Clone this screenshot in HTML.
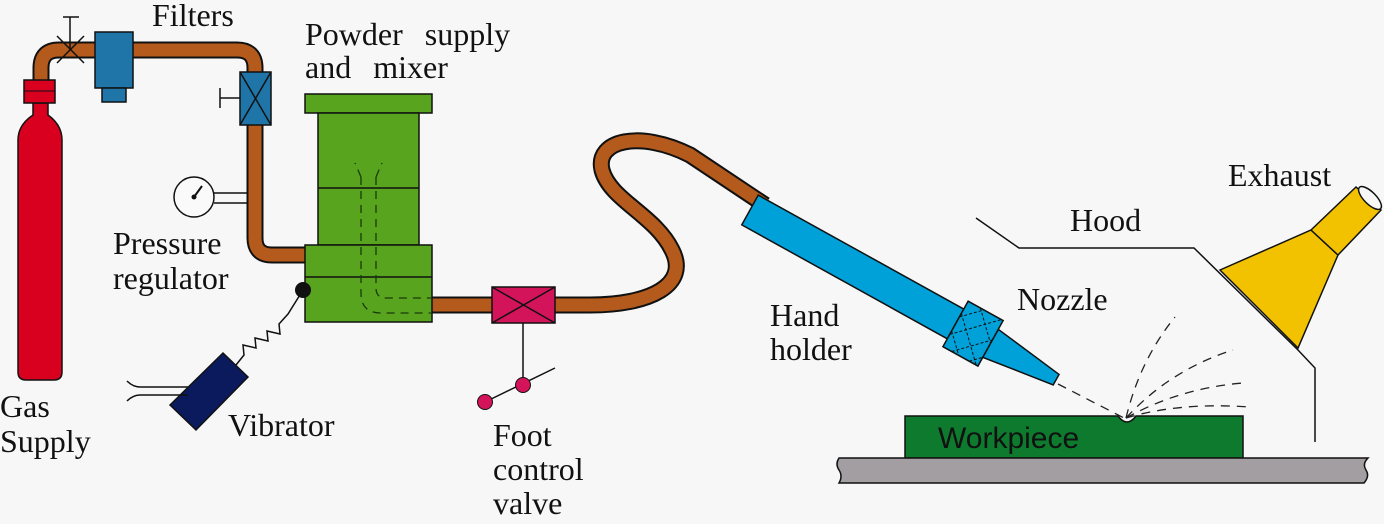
<!DOCTYPE html>
<html><head><meta charset="utf-8"><style>
html,body{margin:0;padding:0;background:#f7f7f7}
svg{display:block}
text{font-family:"Liberation Serif",serif;font-size:32px;fill:#111}
</style></head><body>
<svg width="1384" height="524" viewBox="0 0 1384 524" xmlns="http://www.w3.org/2000/svg">
<rect width="1384" height="524" fill="#f7f7f7"/>
<!-- pipes -->
<g fill="none" stroke-linejoin="round">
<path d="M41,82 V68 Q41,50 59,50 H237 Q255,50 255,68 V238 Q255,255 272,255 H306" stroke="#111" stroke-width="17"/>
<path d="M41,82 V68 Q41,50 59,50 H237 Q255,50 255,68 V238 Q255,255 272,255 H306" stroke="#b35a1c" stroke-width="13"/>
<path d="M430,305 H590 C650,305 690,285 672,250 C655,215 610,200 602,170 C595,140 640,130 690,155 L765,205" stroke="#111" stroke-width="17"/>
<path d="M430,305 H590 C650,305 690,285 672,250 C655,215 610,200 602,170 C595,140 640,130 690,155 L765,205" stroke="#b35a1c" stroke-width="13"/>
</g>
<!-- cylinder -->
<path d="M33,103 V115 Q18,125 18,140 V372 Q18,380 26,380 H54 Q62,380 62,372 V140 Q62,125 48,115 V103 Z" fill="#d9001f" stroke="#111" stroke-width="1.5"/>
<rect x="24" y="80" width="31" height="23" fill="#d9001f" stroke="#111" stroke-width="1.5"/>
<line x1="24" y1="91" x2="55" y2="91" stroke="#111" stroke-width="1"/>
<!-- valve X -->
<g stroke="#111" stroke-width="1.5"><line x1="57" y1="36" x2="84" y2="63"/><line x1="84" y1="36" x2="57" y2="63"/><line x1="70" y1="50" x2="70" y2="17"/><line x1="63" y1="17" x2="79" y2="17"/></g>
<!-- filter -->
<rect x="95" y="32" width="38" height="56" fill="#1f74a8" stroke="#111" stroke-width="1.5"/>
<rect x="102" y="88" width="24" height="14" fill="#1f74a8" stroke="#111" stroke-width="1.5"/>
<!-- regulator valve -->
<rect x="240" y="72" width="31" height="53" fill="#1f74a8" stroke="#111" stroke-width="1.5"/>
<g stroke="#111" stroke-width="1.5"><line x1="240" y1="72" x2="271" y2="125"/><line x1="271" y1="72" x2="240" y2="125"/><line x1="240" y1="98" x2="220" y2="98"/><line x1="220" y1="88" x2="220" y2="108"/></g>
<!-- gauge -->
<circle cx="194" cy="197" r="20" fill="#fafafa" stroke="#111" stroke-width="1.5"/>
<line x1="194" y1="197" x2="202" y2="186" stroke="#111" stroke-width="2"/><circle cx="194" cy="197" r="2.5" fill="#111"/>
<g stroke="#111" stroke-width="1.5"><line x1="214" y1="193" x2="248" y2="193"/><line x1="214" y1="203" x2="248" y2="203"/></g>
<!-- powder supply -->
<g fill="#58a41f" stroke="#111" stroke-width="1.5">
<rect x="305" y="94" width="127" height="19"/>
<rect x="318" y="113" width="101" height="132"/>
<rect x="305" y="245" width="127" height="77"/>
</g>
<g stroke="#111" stroke-width="1.5"><line x1="318" y1="188" x2="419" y2="188"/><line x1="305" y1="277" x2="432" y2="277"/></g>
<g fill="none" stroke="#1a3a0a" stroke-width="1.3" stroke-dasharray="8,6">
<path d="M361,177 V293 Q361,313 381,313 H432"/>
<path d="M376,177 V288 Q376,298 386,298 H432"/>
<line x1="361" y1="177" x2="355" y2="163"/><line x1="376" y1="177" x2="382" y2="163"/>
</g>
<!-- vibrator -->
<polygon points="170,405 223,353 248,377 196,430" fill="#0a1a5c" stroke="#111" stroke-width="1.5"/>
<g fill="none" stroke="#111" stroke-width="1.5">
<path d="M127,381 Q133,387 140,387 H188"/><path d="M127,401 Q133,395 140,395 H188"/>
<path d="M236,365 L244,355 L243,345 L256,348 L255,338 L268,341 L267,331 L280,334 L279,324 L288,314 L303,290"/>
</g>
<circle cx="303" cy="290" r="8" fill="#111"/>
<!-- foot valve -->
<rect x="492" y="287" width="63" height="36" fill="#d4145a" stroke="#111" stroke-width="1.5"/>
<g stroke="#111" stroke-width="1.5"><line x1="492" y1="287" x2="555" y2="323"/><line x1="555" y1="287" x2="492" y2="323"/><line x1="523" y1="323" x2="523" y2="380"/><line x1="485" y1="402" x2="555" y2="368"/></g>
<circle cx="523" cy="385" r="7.5" fill="#d4145a" stroke="#111" stroke-width="1"/>
<circle cx="485" cy="402" r="7.5" fill="#d4145a" stroke="#111" stroke-width="1"/>
<!-- hand holder -->
<g transform="translate(750,210) rotate(29)">
<rect x="0" y="-17" width="235" height="34" fill="#00a0d8" stroke="#111" stroke-width="1.5"/>
<polygon points="275,-16 350,-6 350,6 275,16" fill="#00a0d8" stroke="#111" stroke-width="1.5"/>
<rect x="235" y="-26" width="40" height="52" fill="#00a0d8" stroke="#111" stroke-width="1.5"/>
<g stroke="#111" stroke-width="1" stroke-dasharray="3,2"><line x1="235" y1="-8" x2="253" y2="-26"/><line x1="235" y1="12" x2="273" y2="-26"/><line x1="245" y1="26" x2="275" y2="-4"/><line x1="265" y1="26" x2="275" y2="16"/><line x1="235" y1="-12" x2="273" y2="26"/><line x1="249" y1="-26" x2="275" y2="0"/><line x1="235" y1="8" x2="253" y2="26"/></g>
</g>
<!-- spray -->
<g fill="none" stroke="#222" stroke-width="1.3" stroke-dasharray="9,7">
<line x1="1058" y1="384" x2="1124" y2="418"/>
<path d="M1126,418 Q1140,360 1175,317"/>
<path d="M1126,418 Q1170,370 1233,350"/>
<path d="M1126,418 Q1180,388 1243,383"/>
<path d="M1126,418 Q1180,402 1249,407"/>
</g>
<!-- workpiece & base -->
<path d="M905,416 H1118 Q1127,428 1136,416 H1243 V458 H905 Z" fill="#0e7a2e" stroke="#111" stroke-width="1.5"/>
<path d="M839,458 H1368 Q1362,464 1366,470 Q1370,476 1364,483 H839 Q843,476 839,470 Q835,464 839,458 Z" fill="#a29ea2" stroke="#111" stroke-width="1.5"/>
<!-- hood -->
<polyline points="976,218 1019,248 1194,248 1298,350 1315,368 1315,442" fill="none" stroke="#111" stroke-width="1.5"/>
<!-- exhaust -->
<polygon points="1220,270 1311,230 1338,255 1298,348" fill="#f2c200" stroke="#111" stroke-width="1.5"/>
<polygon points="1311,230 1356,187 1381,210 1338,255" fill="#f2c200" stroke="#111" stroke-width="1.5"/>
<ellipse cx="1370" cy="198" rx="6" ry="15" transform="rotate(-45 1370 198)" fill="#f7f7f7" stroke="#111" stroke-width="1.5"/>
<!-- labels -->
<text x="152" y="26">Filters</text>
<text x="305" y="45" word-spacing="14">Powder supply</text>
<text x="305" y="78" word-spacing="14">and mixer</text>
<text x="113" y="254">Pressure</text>
<text x="113" y="289">regulator</text>
<text x="0" y="417">Gas</text>
<text x="0" y="452">Supply</text>
<text x="228" y="436">Vibrator</text>
<text x="493" y="446">Foot</text>
<text x="493" y="480">control</text>
<text x="493" y="514">valve</text>
<text x="770" y="326">Hand</text>
<text x="770" y="360">holder</text>
<text x="1017" y="310">Nozzle</text>
<text x="1070" y="231">Hood</text>
<text x="1228" y="186">Exhaust</text>
<text x="938" y="448" style="font-family:'Liberation Sans',sans-serif;font-size:30px">Workpiece</text>
</svg>
</body></html>
